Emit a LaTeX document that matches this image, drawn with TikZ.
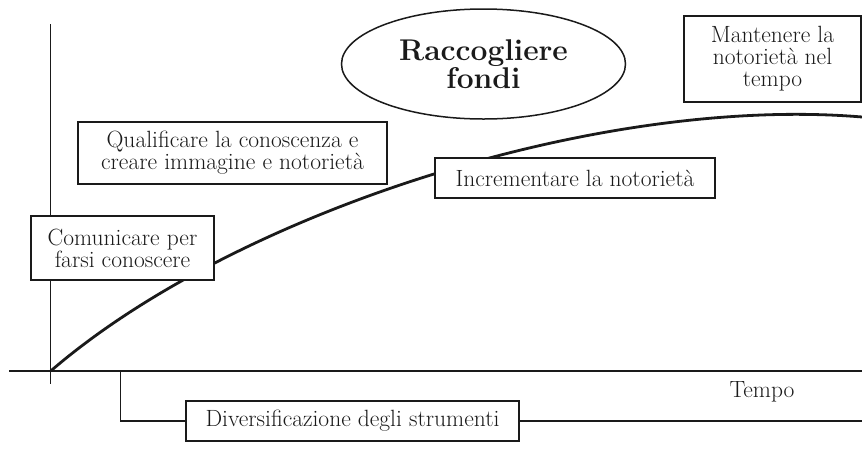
\documentclass[tikz,border=0pt]{standalone}
\usepackage{fontspec}
\usetikzlibrary{shapes.geometric}
\definecolor{ink}{HTML}{1A1A1A}
\tikzset{
  axisline/.style={draw=ink, line width=1.3pt},
  curveline/.style={draw=ink, line width=2.8pt},
  labelbox/.style={draw=ink, line width=1.4pt, fill=white, inner sep=0pt, align=center,
    text=ink, font=\fontsize{23.5}{22}\selectfont},
  goalellipse/.style={ellipse, draw=ink, line width=1.5pt, fill=white, inner sep=0pt, align=center,
    text=ink, font=\fontsize{30}{27}\selectfont\bfseries},
  plainlabel/.style={text=ink, inner sep=0pt, font=\fontsize{23.5}{22}\selectfont}
}
\begin{document}
\begin{tikzpicture}[x=1pt,y=-1pt]
\useasboundingbox (0,0) rectangle (862,448);
% axes
\coordinate (ytop) at (50.7,24);
\coordinate (ybot) at (50.7,384);
\coordinate (xl) at (9,371);
\coordinate (xr) at (862,371);
\coordinate (o) at (50.7,371);
\coordinate (cend) at (862,117);
\coordinate (b0) at (120.7,371);
\coordinate (divr) at (862,421);
\draw[axisline] (ytop) -- (ybot);
\draw[axisline] (xl) -- (xr);
% growth curve
\draw[curveline] (o) .. controls (235,212) and (600,95) .. (cend);
% boxes
\node[labelbox, minimum width=183pt, minimum height=64pt] (com) at (122.5,248) {Comunicare per\\farsi conoscere};
\node[labelbox, minimum width=309pt, minimum height=62pt] (qual) at (232.5,153) {Qualificare la conoscenza e\\creare immagine e notorietà};
\node[labelbox, minimum width=280pt, minimum height=40pt] (inc) at (575,178) {Incrementare la notorietà};
\node[labelbox, minimum width=177pt, minimum height=86pt] (man) at (772.5,59) {Mantenere la\\notorietà nel\\tempo};
\node[goalellipse, minimum width=284pt, minimum height=110pt] (fondi) at (483.5,64) {Raccogliere\\fondi};
\node[labelbox, minimum width=333pt, minimum height=40pt] (div) at (352.5,421) {Diversificazione degli strumenti};
\node[plainlabel] (tempo) at (762,392) {Tempo};
% bracket
\draw[axisline] (b0) |- (div.west);
\draw[axisline] (div.east) -- (divr);
\end{tikzpicture}
\end{document}
